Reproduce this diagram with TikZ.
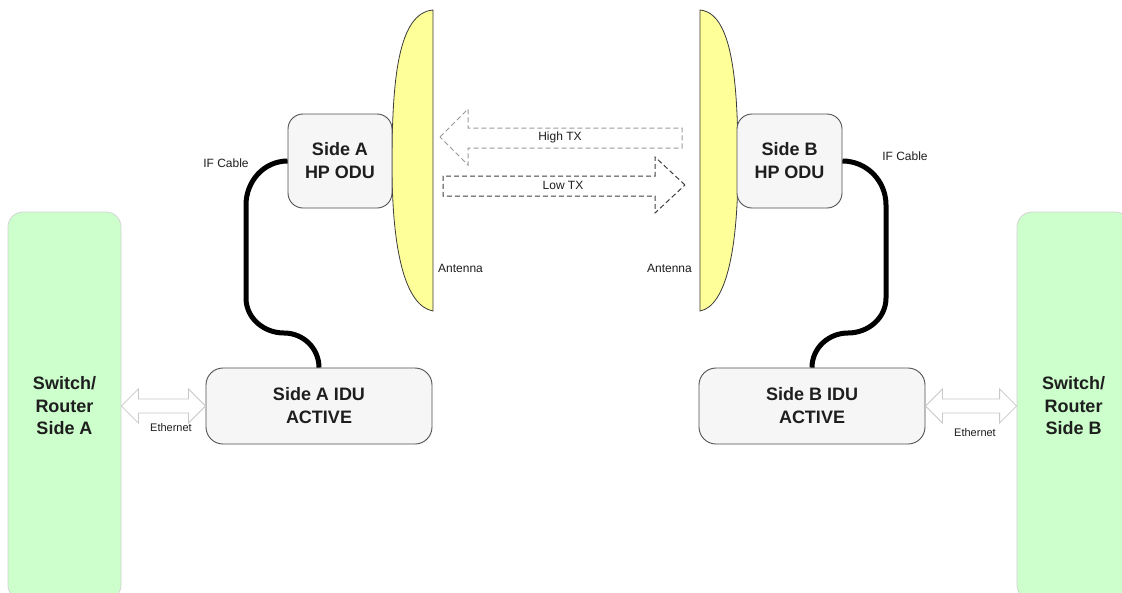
\documentclass[tikz,border=0pt]{standalone}
\usepackage{fontspec}
\setmainfont{Liberation Sans}
\usepackage{tikz}
\usetikzlibrary{calc}
\definecolor{swgreen}{HTML}{CCFFCC}
\definecolor{swedge}{HTML}{D4D4D4}
\definecolor{boxfill}{HTML}{F6F6F6}
\definecolor{boxedge}{HTML}{505050}
\definecolor{dishfill}{HTML}{FFFF99}
\definecolor{dishedge}{HTML}{3A3A3A}
\definecolor{ethedge}{HTML}{C8C8C8}
\definecolor{hightx}{HTML}{9A9A9A}
\definecolor{lowtx}{HTML}{404040}
\definecolor{txt}{HTML}{1E1E1E}

\begin{document}
\begin{tikzpicture}[x=1pt,y=-1pt,
  unitbox/.style={draw=boxedge, fill=boxfill, line width=0.9pt, rounded corners=15pt, align=center, inner sep=0pt, text=txt, font=\fontsize{18}{23}\selectfont\bfseries},
  switchbox/.style={draw=swedge, fill=swgreen, line width=0.8pt, rounded corners=15pt, align=center, inner sep=0pt, text=txt, font=\fontsize{18}{22.5}\selectfont\bfseries},
  lbl/.style={inner sep=0pt, text=txt, font=\fontsize{12}{14}\selectfont},
  cable/.style={line width=5pt, black},
  dish/.style={fill=dishfill, draw=dishedge, line width=0.8pt},
  ether/.style={draw=ethedge, fill=white, line width=0.8pt, line join=miter},
  txarrow/.style={line width=1pt, dash pattern=on 5pt off 3pt}]
\fill[white] (0,0) rectangle (1122,592);
\useasboundingbox (0,0) rectangle (1122,592);
\clip (0,0) rectangle (1122,592);

% switches
\node[switchbox, minimum width=113pt, minimum height=388pt] (swA) at (64.5,406) {Switch/\\Router\\Side A};
\node[switchbox, minimum width=113pt, minimum height=388pt] (swB) at (1073.5,406) {Switch/\\Router\\Side B};

% antennas
\draw[dish] (433,10) .. controls (398,13) and (392,80) .. (392,165) .. controls (392,250) and (405,306) .. (433,311) -- cycle;
\draw[dish] (700,10) .. controls (732,13) and (738,80) .. (738,165) .. controls (738,250) and (726,306) .. (700,311) -- cycle;
\node[lbl, anchor=west] (antA) at (438,268) {Antenna};
\node[lbl, anchor=east] (antB) at (692,268) {Antenna};

% radio units
\node[unitbox, minimum width=104pt, minimum height=94pt] (oduA) at (340,161) {Side A\\HP ODU};
\node[unitbox, minimum width=105pt, minimum height=94pt] (oduB) at (789.5,161) {Side B\\HP ODU};
\node[unitbox, minimum width=226pt, minimum height=76pt, rounded corners=17pt] (iduA) at (319,406) {Side A IDU\\ACTIVE};
\node[unitbox, minimum width=226pt, minimum height=76pt, rounded corners=17pt] (iduB) at (812,406) {Side B IDU\\ACTIVE};

% TX directions
\draw[txarrow, hightx] (440,137) -- (468,109) -- (468,128) -- (682,128) -- (682,148) -- (468,148) -- (468,165) -- cycle;
\draw[txarrow, lowtx] (685,185) -- (655,157) -- (655,176) -- (443,176) -- (443,196) -- (655,196) -- (655,213) -- cycle;
\node[lbl] (high) at (560,137) {High TX};
\node[lbl] (low) at (563,185) {Low TX};

% IF cables
\draw[cable] (oduA.west) to[out=180,in=90] (246,205) -- (246,298) to[out=-90,in=180] (284,333) to[out=0,in=90] (iduA.north);
\draw[cable] (oduB.east) to[out=0,in=90] (886,205) -- (886,298) to[out=-90,in=0] (848,333) to[out=180,in=90] (iduB.north);
\node[lbl] (ifA) at (226,163) {IF Cable};
\node[lbl] (ifB) at (905,156) {IF Cable};

% ethernet
\draw[ether] (swA.east) -- ++(17,-17) -- ++(0,10) -- ($(iduA.west)+(-17,-7)$) -- ++(0,-10) -- (iduA.west) -- ++(-17,17) -- ++(0,-10) -- ($(swA.east)+(17,7)$) -- ++(0,10) -- cycle;
\draw[ether] (iduB.east) -- ++(17,-17) -- ++(0,10) -- ($(swB.west)+(-17,-7)$) -- ++(0,-10) -- (swB.west) -- ++(-17,17) -- ++(0,-10) -- ($(iduB.east)+(17,7)$) -- ++(0,10) -- cycle;
\node[lbl, font=\fontsize{11}{13}\selectfont] (ethA) at (171,428) {Ethernet};
\node[lbl, font=\fontsize{11}{13}\selectfont] (ethB) at (975,433) {Ethernet};
\end{tikzpicture}
\end{document}
